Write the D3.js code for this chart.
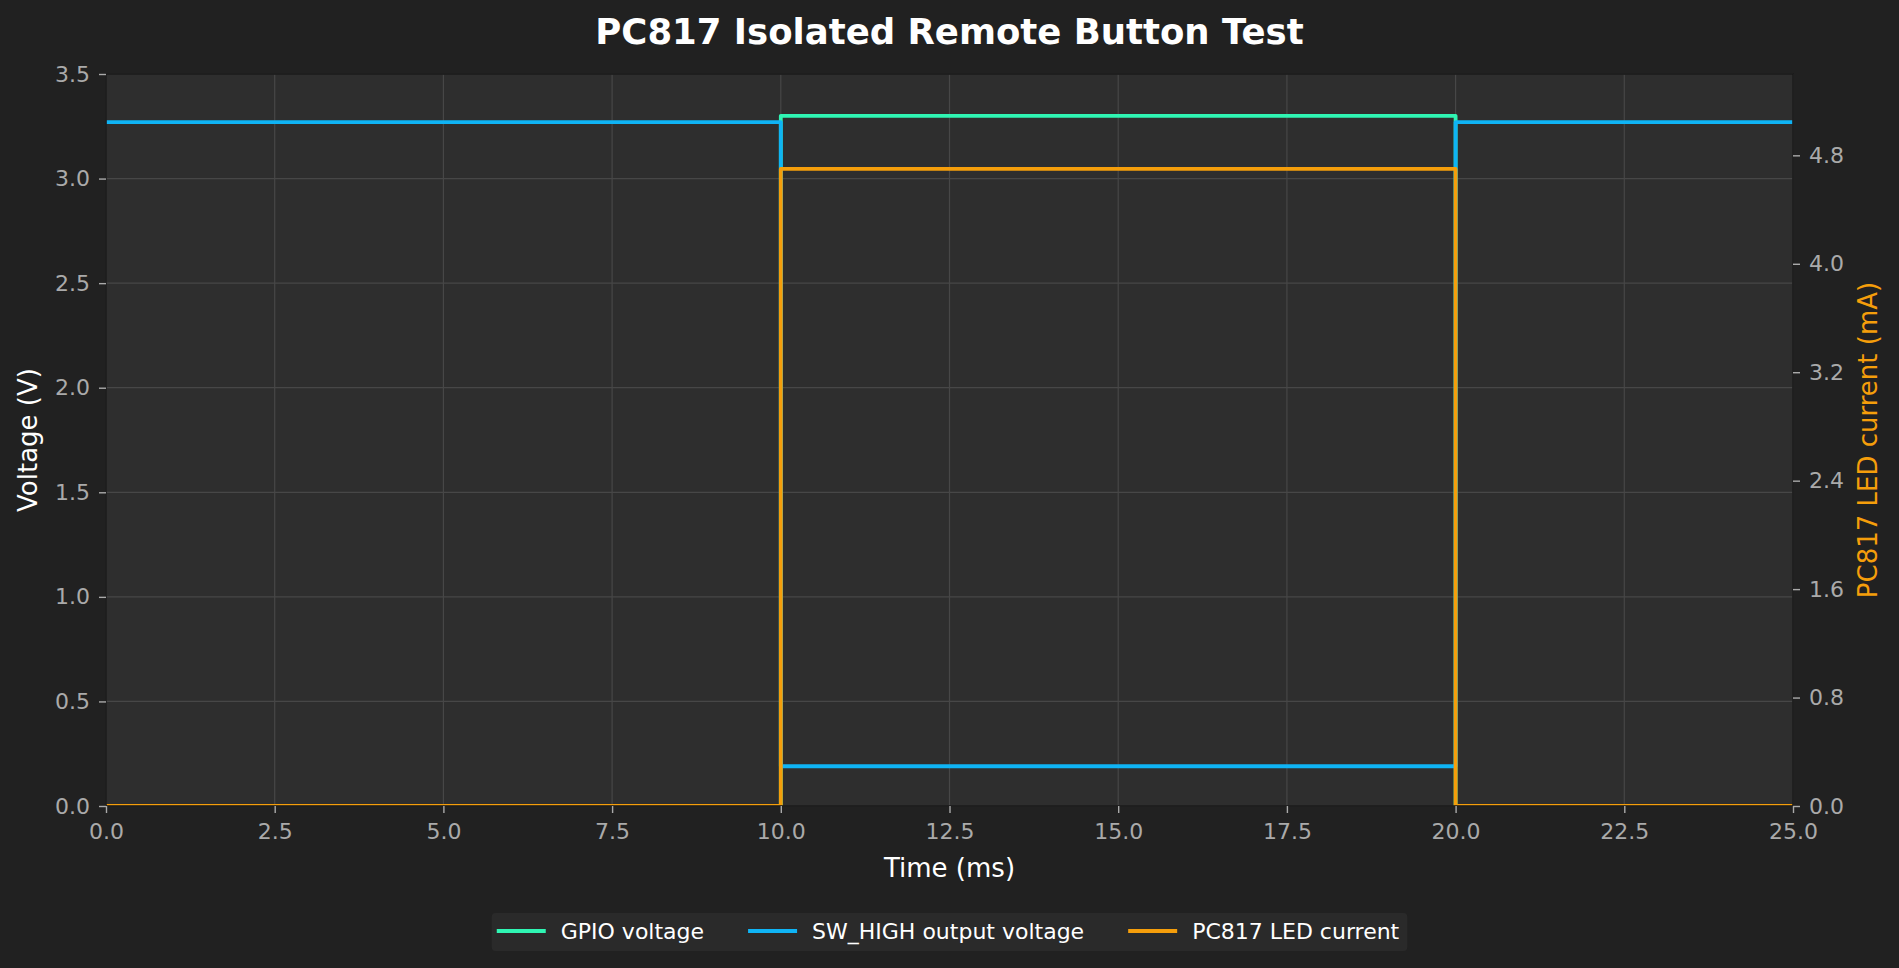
<!DOCTYPE html>
<html>
<head>
<meta charset="utf-8">
<script src="https://cdn.jsdelivr.net/npm/d3@7"></script>
<style>
  html, body { margin: 0; padding: 0; background: #212121; }
  text { font-family: "DejaVu Sans", sans-serif; }
</style>
</head>
<body>
<div id="chart"></div>
<script>
// data
var timeMs   = [0, 10, 10, 20, 20, 25];
var gpioV    = [0, 0, 3.3, 3.3, 0, 0];
var swHighV  = [3.27, 3.27, 0.19, 0.19, 3.27, 3.27];
var ledmA    = [0, 0, 4.7, 4.7, 0, 0];

var xTicks      = [0, 2.5, 5, 7.5, 10, 12.5, 15, 17.5, 20, 22.5, 25];
var leftTicks   = [0, 0.5, 1, 1.5, 2, 2.5, 3, 3.5];
var rightTicks  = [0, 0.8, 1.6, 2.4, 3.2, 4.0, 4.8];
var leftDomain  = [0, 3.5];
var rightDomain = [0, 5.4];

var seriesNames = ["GPIO voltage", "SW_HIGH output voltage", "PC817 LED current"];
var seriesColors = ["#2ff5b3", "#0fb4f5", "#f59e0b"];

var svgWidth = 1899;
var svgHeight = 968;
var margin = { top: 74, right: 106, bottom: 162, left: 106 };
var width = svgWidth - margin.left - margin.right;
var height = svgHeight - margin.top - margin.bottom;

var svg = d3.select("#chart")
  .append("svg")
  .attr("width", svgWidth)
  .attr("height", svgHeight)
  .style("display", "block");

svg.append("rect")
  .attr("width", svgWidth)
  .attr("height", svgHeight)
  .attr("fill", "#212121");

var chartGroup = svg.append("g")
  .attr("transform", `translate(${margin.left}, ${margin.top})`);

// scales
var xScale = d3.scaleLinear().domain([0, 25]).range([0, width]);
var yLeft = d3.scaleLinear().domain(leftDomain).range([height, 0]);
var yRight = d3.scaleLinear().domain(rightDomain).range([height, 0]);

// plot background
chartGroup.append("rect")
  .attr("width", width)
  .attr("height", height)
  .attr("fill", "#2e2e2e");

chartGroup.append("clipPath")
  .attr("id", "plotClip")
  .append("rect")
  .attr("width", width)
  .attr("height", height);

// grid
var grid = chartGroup.append("g");
grid.selectAll(".vgrid")
  .data(xTicks)
  .enter()
  .append("line")
  .attr("x1", d => xScale(d))
  .attr("x2", d => xScale(d))
  .attr("y1", 0)
  .attr("y2", height)
  .attr("stroke", "#474747")
  .attr("stroke-width", 1.2);
grid.selectAll(".hgrid")
  .data(leftTicks)
  .enter()
  .append("line")
  .attr("x1", 0)
  .attr("x2", width)
  .attr("y1", d => yLeft(d))
  .attr("y2", d => yLeft(d))
  .attr("stroke", "#474747")
  .attr("stroke-width", 1.2);

// lines
var voltLine = d3.line()
  .x((d, i) => xScale(timeMs[i]))
  .y(d => yLeft(d));
var currLine = d3.line()
  .x((d, i) => xScale(timeMs[i]))
  .y(d => yRight(d));

var lines = chartGroup.append("g").attr("clip-path", "url(#plotClip)");
[[gpioV, voltLine], [swHighV, voltLine], [ledmA, currLine]].forEach(function(s, i) {
  lines.append("path")
    .datum(s[0])
    .attr("d", s[1])
    .attr("fill", "none")
    .attr("stroke", seriesColors[i])
    .attr("stroke-width", 3.8)
    .attr("stroke-linejoin", "round");
});

// spines
chartGroup.append("rect")
  .attr("width", width)
  .attr("height", height)
  .attr("fill", "none")
  .attr("stroke", "#1a1a1a")
  .attr("stroke-width", 1.6);

// axes
function styleAxis(g) {
  g.select(".domain").remove();
  g.selectAll(".tick line").attr("stroke", "#aaaaaa").attr("stroke-width", 1.4);
  g.selectAll(".tick text")
    .attr("fill", "#aaaaaa")
    .style("font-size", "22px")
    .style("font-family", "DejaVu Sans");
}

chartGroup.append("g")
  .attr("transform", `translate(0, ${height})`)
  .call(d3.axisBottom(xScale).tickValues(xTicks).tickFormat(d3.format(".1f")).tickSize(7).tickPadding(10))
  .call(styleAxis);

chartGroup.append("g")
  .call(d3.axisLeft(yLeft).tickValues(leftTicks).tickFormat(d3.format(".1f")).tickSize(7).tickPadding(9))
  .call(styleAxis);

chartGroup.append("g")
  .attr("transform", `translate(${width}, 0)`)
  .call(d3.axisRight(yRight).tickValues(rightTicks).tickFormat(d3.format(".1f")).tickSize(7).tickPadding(9))
  .call(styleAxis);

// labels
svg.append("text")
  .attr("x", svgWidth / 2)
  .attr("y", 44)
  .attr("text-anchor", "middle")
  .attr("fill", "#ffffff")
  .style("font-size", "35.5px")
  .style("font-weight", "bold")
  .text("PC817 Isolated Remote Button Test");

svg.append("text")
  .attr("x", margin.left + width / 2)
  .attr("y", 877)
  .attr("text-anchor", "middle")
  .attr("fill", "#ffffff")
  .style("font-size", "26px")
  .text("Time (ms)");

svg.append("text")
  .attr("transform", `translate(37, ${margin.top + height / 2}) rotate(-90)`)
  .attr("text-anchor", "middle")
  .attr("fill", "#ffffff")
  .style("font-size", "26px")
  .text("Voltage (V)");

svg.append("text")
  .attr("transform", `translate(1877, ${margin.top + height / 2}) rotate(-90)`)
  .attr("text-anchor", "middle")
  .attr("fill", seriesColors[2])
  .style("font-size", "26px")
  .text("PC817 LED current (mA)");

// legend
var legend = svg.append("g");
var legendBox = legend.append("rect")
  .attr("y", 913)
  .attr("height", 38)
  .attr("rx", 4)
  .attr("fill", "#2a2a2a");

var handleLen = 49, handleGap = 15, colGap = 44, padL = 5, padR = 8;
var items = legend.selectAll(".item")
  .data(seriesNames)
  .enter()
  .append("g");
items.append("line")
  .attr("x1", 0)
  .attr("x2", handleLen)
  .attr("y1", 931)
  .attr("y2", 931)
  .attr("stroke", (d, i) => seriesColors[i])
  .attr("stroke-width", 4);
items.append("text")
  .attr("x", handleLen + handleGap)
  .attr("y", 931)
  .attr("dy", "0.36em")
  .attr("fill", "#ffffff")
  .style("font-size", "22px")
  .text(d => d);

var offsets = [];
var cursor = padL;
items.each(function(d, i) {
  var w = d3.select(this).select("text").node().getComputedTextLength();
  offsets.push(cursor);
  cursor += handleLen + handleGap + w + (i < seriesNames.length - 1 ? colGap : 0);
});
var legendWidth = cursor + padR;
var legendX = svgWidth / 2 - legendWidth / 2;
legendBox.attr("x", legendX).attr("width", legendWidth);
items.attr("transform", (d, i) => `translate(${legendX + offsets[i]}, 0)`);
</script>
</body>
</html>
